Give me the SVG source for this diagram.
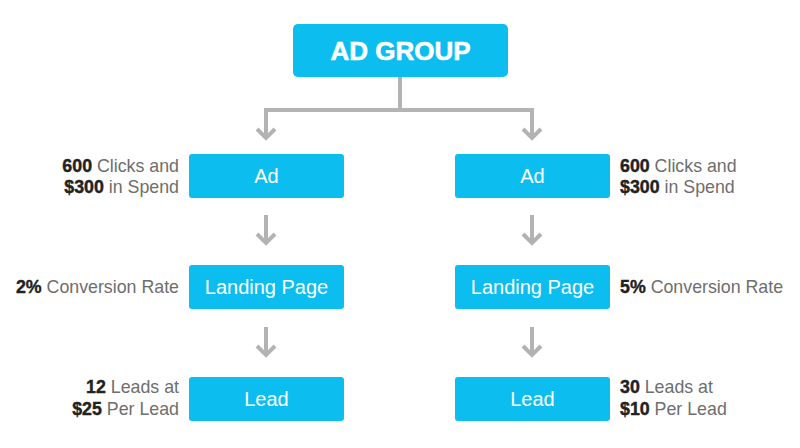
<svg xmlns="http://www.w3.org/2000/svg" width="800" height="448" viewBox="0 0 800 448">
<style>
.box{fill:#0cbdf0}
.bt{font-family:"Liberation Sans",Arial,sans-serif;font-size:20px;fill:#fff;text-anchor:middle}
.title{font-family:"Liberation Sans",Arial,sans-serif;font-size:26px;font-weight:bold;fill:#fff;text-anchor:middle;stroke:#fff;stroke-width:0.6}
.lbl{font-family:"Liberation Sans",Arial,sans-serif;font-size:17.8px;fill:#6e6e6e}
.b{font-weight:bold;fill:#222;stroke:#222;stroke-width:0.4}
.ln{stroke:#b3b3b3;stroke-width:4;fill:none}
</style>
<rect width="800" height="448" fill="#fff"/>
<g id="connectors">
<path class="ln" d="M400 77V110M264 110H534M266 108V138M532 108V138"/>
<path class="ln" d="M257 129L266 138L275 129M523 129L532 138L541 129"/>
<path class="ln" d="M266 215V243M257 234L266 243L275 234M532 215V243M523 234L532 243L541 234"/>
<path class="ln" d="M266 327V355M257 346L266 355L275 346M532 327V355M523 346L532 355L541 346"/>
</g>
<g id="adgroup"><rect class="box" x="293" y="24" width="215" height="53" rx="5"/><text class="title" x="400.5" y="59.5">AD GROUP</text></g>
<g id="ad-left"><rect class="box" x="189" y="154" width="155" height="44" rx="3"/><text class="bt" x="266.5" y="183">Ad</text></g>
<g id="ad-right"><rect class="box" x="455" y="154" width="155" height="44" rx="3"/><text class="bt" x="532.5" y="183">Ad</text></g>
<g id="lp-left"><rect class="box" x="189" y="265" width="155" height="44" rx="3"/><text class="bt" x="266.5" y="294">Landing Page</text></g>
<g id="lp-right"><rect class="box" x="455" y="265" width="155" height="44" rx="3"/><text class="bt" x="532.5" y="294">Landing Page</text></g>
<g id="lead-left"><rect class="box" x="189" y="377" width="155" height="44" rx="3"/><text class="bt" x="266.5" y="406">Lead</text></g>
<g id="lead-right"><rect class="box" x="455" y="377" width="155" height="44" rx="3"/><text class="bt" x="532.5" y="406">Lead</text></g>
<g id="labels">
<text class="lbl" x="179" y="172" text-anchor="end"><tspan class="b">600</tspan> Clicks and</text>
<text class="lbl" x="179" y="193" text-anchor="end"><tspan class="b">$300</tspan> in Spend</text>
<text class="lbl" x="620" y="172"><tspan class="b">600</tspan> Clicks and</text>
<text class="lbl" x="620" y="193"><tspan class="b">$300</tspan> in Spend</text>
<text class="lbl" x="179" y="293" text-anchor="end"><tspan class="b">2%</tspan> Conversion Rate</text>
<text class="lbl" x="620" y="293"><tspan class="b">5%</tspan> Conversion Rate</text>
<text class="lbl" x="179" y="393" text-anchor="end"><tspan class="b">12</tspan> Leads at</text>
<text class="lbl" x="179" y="415" text-anchor="end"><tspan class="b">$25</tspan> Per Lead</text>
<text class="lbl" x="620" y="393"><tspan class="b">30</tspan> Leads at</text>
<text class="lbl" x="620" y="415"><tspan class="b">$10</tspan> Per Lead</text>
</g>
</svg>
